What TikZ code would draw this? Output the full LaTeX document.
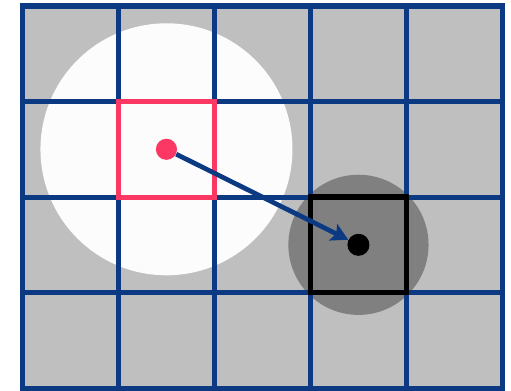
\documentclass[tikz,border=0pt]{standalone}
\usepackage{tikz}
\usetikzlibrary{arrows.meta, positioning}
\definecolor{gridblue}{HTML}{0B3A82}
\definecolor{cellred}{HTML}{FB3764}
\definecolor{cellgray}{HTML}{BFBFBF}
\definecolor{nearwhite}{HTML}{FCFCFC}
\definecolor{shadegray}{HTML}{808080}
\tikzstyle{zone} = [circle, inner sep=0pt, draw=none]
\tikzstyle{dot} = [circle, inner sep=0pt, minimum size=0.44cm]
\tikzstyle{cellbox} = [line width=3pt]
\tikzstyle{arrow} = [-{Stealth[length=3.5mm, width=3.8mm, inset=0.7mm]}, line width=2.8pt, draw=gridblue]

\begin{document}
\begin{tikzpicture}[x=2cm, y=1.99cm]

  \useasboundingbox (-0.234,-0.021) rectangle (5.089,4.063);

  % cells and light zones
  \fill[cellgray] (0,0) rectangle (5,4);
  \node[zone, fill=nearwhite, minimum size=5.25cm] (near) at (1.5,2.5) {};
  \node[zone, fill=shadegray, minimum size=2.92cm] (far) at (3.5,1.5) {};

  % grid
  \draw[gridblue, line width=3pt, xstep=2cm, ystep=1.99cm] (0,0) grid (5,4);
  \draw[gridblue, line width=3pt] (0,0) rectangle (5,4);

  % highlighted cells
  \draw[cellbox, draw=cellred] (1,2) rectangle (2,3);
  \draw[cellbox, draw=black, line width=3.3pt] (3,1) rectangle (4,2);

  \node[dot, fill=cellred] (src) at (1.5,2.5) {};
  \node[dot, fill=black, minimum size=0.46cm] (dst) at (3.5,1.5) {};

  \draw[arrow] (src) -- (dst);

\end{tikzpicture}
\end{document}
